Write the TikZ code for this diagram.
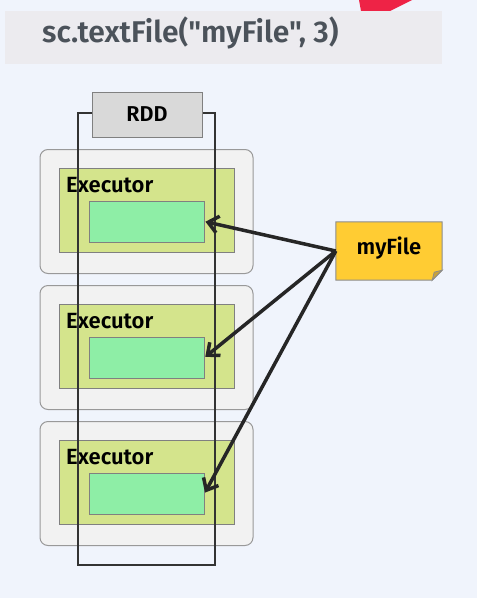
\documentclass[tikz,border=0pt]{standalone}
\usepackage{fontspec}
\setmainfont{Fira Sans}[BoldFont={Fira Sans SemiBold}]
\newfontfamily\codefont{Fira Sans}[BoldFont={Fira Sans SemiBold}]
\usetikzlibrary{arrows.meta}
\definecolor{bgblue}{HTML}{F0F4FC}
\definecolor{titlegray}{HTML}{ECEBEF}
\definecolor{titletext}{HTML}{4B525A}
\definecolor{hotred}{HTML}{EE2346}
\definecolor{execgray}{HTML}{F2F2F2}
\definecolor{execgreen}{HTML}{D4E48C}
\definecolor{partgreen}{HTML}{8EEEA6}
\definecolor{rddgray}{HTML}{D9D9D9}
\definecolor{fileyellow}{HTML}{FFCC33}
\definecolor{foldbrown}{HTML}{C9A23A}
\begin{document}
\begin{tikzpicture}[x=1pt, y=-1pt,
  outerbox/.style={draw=black!40, fill=execgray, rounded corners=8pt, line width=1pt, minimum width=213pt, minimum height=124pt},
  innerbox/.style={draw=black!50, fill=execgreen, line width=1pt, minimum width=175pt, minimum height=84pt},
  partbox/.style={draw=black!50, fill=partgreen, line width=1pt, minimum width=115pt, minimum height=41pt},
  execlabel/.style={anchor=base west, inner sep=0pt, font=\fontsize{22}{26}\selectfont\bfseries},
  readarrow/.style={draw=black!85, line width=3.5pt, -{Straight Barb[length=10pt, width=17pt, line width=3.5pt]}, shorten >=1pt}]
\fill[bgblue] (0,0) rectangle (477,598);
\useasboundingbox (0,0) rectangle (477,598);

\fill[hotred] (359,0) -- (412,0) -- (390,11) -- (361,11) -- cycle;
\fill[titlegray] (5,11) rectangle (442,64);
\node[anchor=base west, inner sep=0pt, text=titletext, font=\codefont\fontsize{30}{36}\selectfont\bfseries] (title) at (42,42) {sc.textFile("myFile", 3)};

\node[outerbox] (exec1) at (146.5,211.5) {};
\node[innerbox] (inner1) at (146.5,210) {};
\node[execlabel] (label1) at (66,192) {Executor};
\node[partbox] (part1) at (146.5,221.5) {};

\node[outerbox] (exec2) at (146.5,347.5) {};
\node[innerbox] (inner2) at (146.5,346) {};
\node[execlabel] (label2) at (66,328) {Executor};
\node[partbox] (part2) at (146.5,357.5) {};

\node[outerbox] (exec3) at (146.5,483.5) {};
\node[innerbox] (inner3) at (146.5,482) {};
\node[execlabel] (label3) at (66,464) {Executor};
\node[partbox] (part3) at (146.5,493.5) {};

\draw[line width=2pt, draw=black!80] (78,113) rectangle (215,565);
\node[draw=black!50, fill=rddgray, line width=1pt, minimum width=110pt, minimum height=45pt, font=\fontsize{21.5}{26}\selectfont\bfseries] (rdd) at (147,114.5) {RDD};

\node[minimum width=106pt, minimum height=58pt] (myfile) at (389,251) {};
\filldraw[draw=black!45, fill=fileyellow, line width=1pt] (myfile.north west) -- (myfile.north east) -- ([yshift=10pt]myfile.south east) -- ([xshift=-10pt]myfile.south east) -- (myfile.south west) -- cycle;
\filldraw[draw=black!45, fill=foldbrown, line width=0.8pt] ([xshift=-10pt]myfile.south east) -- ([yshift=10pt]myfile.south east) -- ([xshift=-8pt, yshift=8pt]myfile.south east) -- cycle;
\node[font=\fontsize{22}{26}\selectfont\bfseries] (filetext) at ([yshift=3pt]myfile.center) {myFile};

\draw[readarrow] (myfile.west) -- (part1.east);
\draw[readarrow] (myfile.west) -- (part2.east);
\draw[readarrow] (myfile.west) -- (part3.east);
\end{tikzpicture}
\end{document}
